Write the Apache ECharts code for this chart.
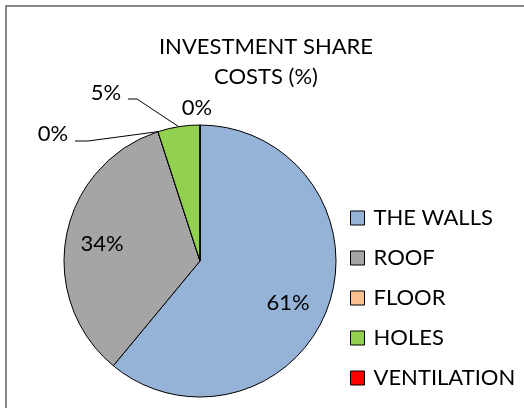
<!DOCTYPE html>
<html>
<head>
<meta charset="utf-8">
<script src="https://cdn.jsdelivr.net/npm/echarts@6/dist/echarts.min.js"></script>
<style>
  html, body { margin: 0; padding: 0; background: #fff; }
  #chart { width: 524px; height: 408px; }
</style>
</head>
<body>
<div id="chart"></div>
<script>
// ---- data ----
const categories = ['THE WALLS', 'ROOF', 'FLOOR', 'HOLES', 'VENTILATION'];
const shareValues = [61, 34, 0, 5, 0];
const sliceColors = ['#95B3D7', '#A5A5A5', '#FAC090', '#92D050', '#FF0000'];

// ---- layout (not data) ----
const CX = 200, CY = 261, R = 136;
const FONT = 'Lato';
const FS = 22;
const labelPlacement = [
  { inside: true, x: 288, y: 303 },
  { inside: true, x: 102, y: 244 },
  { x: 53, y: 134, line: [[88, 141], [75, 141]] },
  { x: 106, y: 93, line: [[137, 99], [128, 99]] },
  { x: 197, y: 108, noLine: true }
];

const total = shareValues.reduce((a, b) => a + b, 0);
// arc anchor point at the middle angle of each slice (clockwise from 12 o'clock)
function arcAnchor(i) {
  let cum = 0;
  for (let k = 0; k < i; k++) cum += shareValues[k];
  const frac = (cum + shareValues[i] / 2) / total;
  const th = frac * 2 * Math.PI;
  return [CX + R * Math.sin(th), CY - R * Math.cos(th)];
}

const data = categories.map((name, i) => {
  const p = labelPlacement[i];
  return {
    name: name,
    value: shareValues[i],
    itemStyle: { color: sliceColors[i] },
    label: { position: p.inside ? 'inside' : 'outside' },
    labelLine: { show: !p.inside && !p.noLine }
  };
});

const chart = echarts.init(document.getElementById('chart'), null, { renderer: 'canvas' });
chart.setOption({
  animation: false,
  backgroundColor: '#ffffff',
  title: {
    text: 'INVESTMENT SHARE\nCOSTS (%)',
    left: 266,
    textAlign: 'center',
    top: 32,
    padding: 0,
    textStyle: {
      fontFamily: FONT, fontSize: FS, fontWeight: 'normal', color: '#000', lineHeight: 30
    }
  },
  legend: {
    orient: 'vertical',
    left: 350,
    top: 205,
    padding: 0,
    icon: 'rect',
    itemWidth: 14,
    itemHeight: 14,
    itemGap: 14,
    selectedMode: false,
    data: categories,
    itemStyle: { borderColor: '#000', borderWidth: 1 },
    textStyle: { fontFamily: FONT, fontSize: FS, color: '#000', lineHeight: 26, padding: [0, 0, 0, 4] }
  },
  graphic: [{
    type: 'rect',
    shape: { x: 6, y: 6, width: 700, height: 600 },
    style: { fill: 'none', stroke: '#878787', lineWidth: 2 },
    silent: true,
    z: -1
  }],
  series: [{
    type: 'pie',
    center: [CX, CY],
    radius: R,
    startAngle: 90,
    clockwise: true,
    avoidLabelOverlap: false,
    minShowLabelAngle: 0,
    label: {
      formatter: '{d}%',
      fontFamily: FONT, fontSize: FS, color: '#000'
    },
    labelLine: { lineStyle: { color: '#000', width: 1 }, smooth: false, length: 10, length2: 10 },
    itemStyle: { borderColor: '#000', borderWidth: 1 },
    emphasis: { disabled: true },
    labelLayout: function (params) {
      const i = params.dataIndex;
      const p = labelPlacement[i];
      const out = { x: p.x, y: p.y, align: 'center', verticalAlign: 'middle' };
      if (p.line) {
        out.labelLinePoints = [arcAnchor(i)].concat(p.line);
      }
      return out;
    },
    data: data
  }]
});
</script>
</body>
</html>
